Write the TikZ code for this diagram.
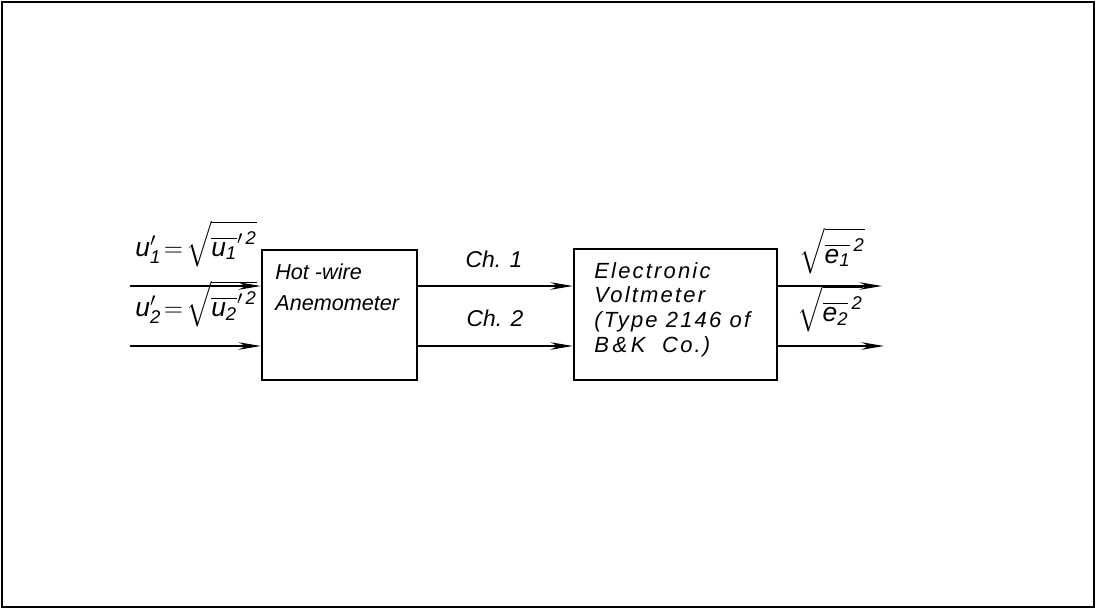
\documentclass[tikz,border=0pt]{standalone}
\usepackage{amsmath}
\usepackage{fontspec}
\setmainfont{Liberation Sans}
\usetikzlibrary{arrows.meta, positioning}

\newcommand{\itx}[1]{\text{\itshape #1}}

\begin{document}
\begin{tikzpicture}[
  x=0.02cm, y=-0.02cm,
  blockbox/.style={rectangle, draw, line width=1.3pt},
  boxtext/.style={font=\fontsize{12.3}{18}\selectfont\itshape, align=left, inner sep=0pt},
  vmtext/.style={font=\fontsize{12.5}{14}\selectfont\itshape\addfontfeatures{LetterSpace=10}, align=left, inner sep=0pt},
  sig/.style={font=\fontsize{13}{15}\selectfont\itshape, inner sep=0pt},
  mathsig/.style={font=\fontsize{15}{17}\selectfont\itshape, inner sep=0pt},
  arrow/.style={line width=0.8pt, -{Stealth[length=4.5mm, width=1.5mm]}}
]
  \useasboundingbox (0,0) rectangle (1096,610);
  \draw[line width=1.2pt] (2,2) rectangle (1094,607);

  % blocks
  \node[blockbox, minimum width=3.1cm, minimum height=2.6cm] (hw) at (339.5,315) {};
  \node[blockbox, minimum width=4.06cm, minimum height=2.62cm] (vm) at (675.5,314.5) {};
  \node[boxtext, anchor=north west] (hwtext) at (275,263) {Hot -wire\\Anemometer};
  \node[vmtext, anchor=north west] (vmtext) at (594,262) {Electronic\\Voltmeter\\(Type 2146 of\\B\,\&\,K\ \ Co.)};

  % signal ends
  \coordinate (inone) at (130,286);
  \coordinate (intwo) at (130,346);
  \coordinate (outone) at (882,286);
  \coordinate (outtwo) at (884,346);

  \draw[arrow] (inone) -- (inone -| hw.west);
  \draw[arrow] (intwo) -- (intwo -| hw.west);
  \draw[arrow] (hw.east |- inone) -- (vm.west |- inone);
  \draw[arrow] (hw.east |- intwo) -- (vm.west |- intwo);
  \draw[arrow] (vm.east |- inone) -- (outone);
  \draw[arrow] (vm.east |- intwo) -- (outtwo);

  % labels
  \node[mathsig, anchor=base west] (uone) at (135,256) {$\itx{u}_{\itx{1}}'\!=\!\sqrt{\overline{\itx{u}_{\itx{1}}}'^{\,\itx{2}}}$};
  \node[mathsig, anchor=base west] (utwo) at (135,316) {$\itx{u}_{\itx{2}}'\!=\!\sqrt{\overline{\itx{u}_{\itx{2}}}'^{\,\itx{2}}}$};
  \node[sig] (chone) at (494,259) {Ch. 1};
  \node[sig] (chtwo) at (495,318) {Ch. 2};
  \node[mathsig, anchor=base west] (eone) at (799,263) {$\sqrt{\overline{\itx{e}_{\itx{1}}}^{\,\itx{2}}}$};
  \node[mathsig, anchor=base west] (etwo) at (797,321) {$\sqrt{\overline{\itx{e}_{\itx{2}}}^{\,\itx{2}}}$};
\end{tikzpicture}
\end{document}
